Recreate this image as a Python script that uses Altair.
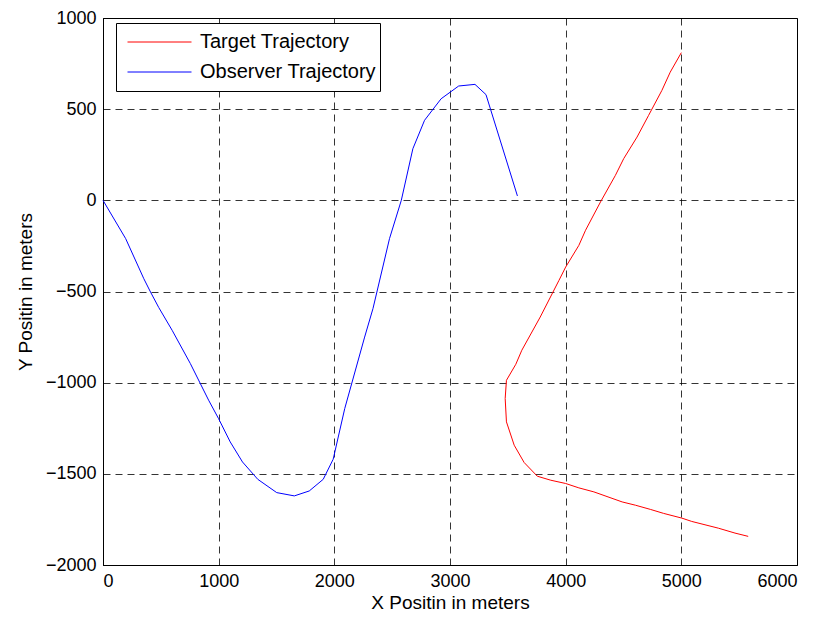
import altair as alt
import pandas as pd

# Observer trajectory (meters)
obs_x = [0, 196, 353, 411, 482, 598, 755, 913, 999, 1100, 1206, 1338, 1502, 1654,
         1783, 1904, 1990, 2090, 2262, 2334, 2477, 2579, 2679, 2780, 2923, 3075,
         3216, 3311, 3583]
obs_y = [0, -210, -430, -503, -588, -713, -895, -1096, -1197, -1325, -1435, -1530,
         -1603, -1621, -1594, -1530, -1420, -1142, -750, -594, -210, 0, 283, 439,
         557, 627, 636, 580, 24]

# Target trajectory (meters)
tgt_x = [5578, 5464, 5320, 5090, 5005, 4847, 4732, 4603, 4488, 4244, 4114, 4000,
         3871, 3755, 3641, 3555, 3488, 3477, 3488, 3569, 3621, 3780, 3942, 4000,
         4114, 4172, 4301, 4430, 4502, 4617, 4717, 4832, 4904, 5000]
tgt_y = [-1843, -1825, -1798, -1761, -1743, -1717, -1695, -1672, -1654, -1599,
         -1577, -1553, -1535, -1513, -1438, -1343, -1215, -1087, -987, -899, -822,
         -640, -439, -366, -247, -164, -9, 137, 229, 347, 466, 603, 703, 810]

series_names = ["Target Trajectory", "Observer Trajectory"]
series_colors = ["#ff0000", "#0000ff"]

rows = []
for i, (x, y) in enumerate(zip(tgt_x, tgt_y)):
    rows.append({"x": x, "y": y, "series": series_names[0], "order": i})
for i, (x, y) in enumerate(zip(obs_x, obs_y)):
    rows.append({"x": x, "y": y, "series": series_names[1], "order": i})
df = pd.DataFrame(rows)

FONT = "Liberation Sans"

chart = alt.Chart(df).mark_line(strokeWidth=1).encode(
    x=alt.X("x:Q", title="X Positin in meters",
            scale=alt.Scale(domain=[0, 6000], nice=False),
            axis=alt.Axis(values=[0, 1000, 2000, 3000, 4000, 5000, 6000], format="d")),
    y=alt.Y("y:Q", title="Y Positin in meters",
            scale=alt.Scale(domain=[-2000, 1000], nice=False),
            axis=alt.Axis(values=[-2000, -1500, -1000, -500, 0, 500, 1000], format="d")),
    color=alt.Color("series:N",
                    scale=alt.Scale(domain=series_names, range=series_colors),
                    legend=alt.Legend(title=None, orient="none", legendX=13, legendY=5,
                                      symbolType="stroke", symbolSize=4096,
                                      symbolStrokeWidth=1, clipHeight=30,
                                      symbolOffset=7,
                                      labelFontSize=20, labelFont=FONT,
                                      labelColor="black", labelOffset=8,
                                      labelLimit=400,
                                      strokeColor="black", fillColor="white",
                                      padding=4, rowPadding=0)),
    order="order:Q",
).properties(
    width=694, height=547,
    autosize="none",
    padding={"left": 103, "top": 18, "right": 29, "bottom": 59},
).configure_view(
    stroke="black", strokeWidth=1
).configure_axis(
    labelFont=FONT, labelFontSize=18, labelColor="black",
    titleFont=FONT, titleFontSize=19, titleFontWeight="normal", titleColor="black",
    domainColor="black", ticks=False, labelPadding=7,
    gridColor="black", gridDash=[7, 5], gridWidth=0.8, gridOpacity=1,
).configure_axisX(
    titlePadding=3
).configure_axisY(
    titlePadding=10
)

chart.save("out.html", embed_options={"renderer": "svg", "actions": False})
